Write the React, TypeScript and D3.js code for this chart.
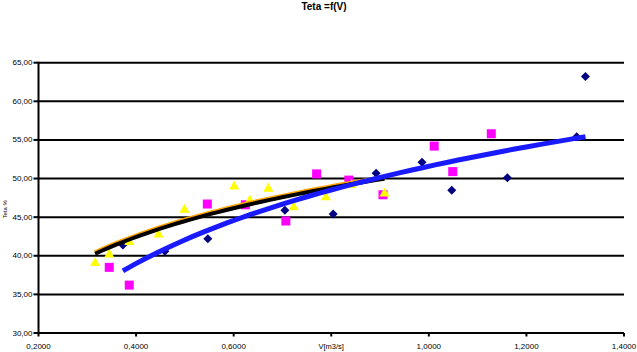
import React, { useEffect, useRef } from "react";
import * as d3 from "d3";

// series 1 (navy diamonds)
const serie1V = [0.373, 0.459, 0.547, 0.705, 0.804, 0.892, 0.986, 1.047, 1.161, 1.303, 1.321];
const serie1T = [41.4, 40.6, 42.2, 45.9, 45.4, 50.7, 52.1, 48.5, 50.1, 55.4, 63.2];

// series 2 (magenta squares)
const serie2V = [0.345, 0.386, 0.546, 0.624, 0.707, 0.77, 0.836, 0.906, 1.011, 1.049, 1.128];
const serie2T = [38.5, 36.2, 46.7, 46.6, 44.5, 50.6, 49.8, 47.9, 54.2, 50.9, 55.8];

// series 3 (yellow triangles)
const serie3V = [0.316, 0.345, 0.386, 0.446, 0.499, 0.601, 0.633, 0.671, 0.723, 0.789, 0.842, 0.909];
const serie3T = [39.2, 40.3, 41.9, 42.9, 46.1, 49.1, 47.3, 48.8, 46.4, 47.7, 49.3, 48.2];

const xTicks = [0.2, 0.4, 0.6, 0.8, 1.0, 1.2, 1.4];
const yTicks = [30, 35, 40, 45, 50, 55, 60, 65];

const title = "Teta =f(V)";
const xTitle = "V[m3/s]";
const yTitle = "Teta %";

// excel-like logarithmic trendline: y = a + b*ln(x)
const logFit = (xs: number[], ys: number[]) => {
    const lx = xs.map((x) => Math.log(x));
    const mx = d3.mean(lx) as number;
    const my = d3.mean(ys) as number;
    let sxy = 0;
    let sxx = 0;
    lx.forEach((l, i) => {
        sxy += (l - mx) * (ys[i] - my);
        sxx += (l - mx) * (l - mx);
    });
    const b = sxy / sxx;
    const a = my - b * mx;
    return (x: number) => a + b * Math.log(x);
};

const Chart = () => {
    const svgRef = useRef<SVGSVGElement>(null);
    const width = 637;
    const height = 352;

    useEffect(() => {
        const svg = d3.select(svgRef.current);
        svg.selectAll("*").remove();

        const xScale = d3.scaleLinear().domain([0.2, 1.4]).range([38.5, 624]);
        const yScale = d3.scaleLinear().domain([30, 65]).range([333, 62.7]);
        const fmt = (d: number, p: number) => d.toFixed(p).replace(".", ",");
        const font = "'Liberation Sans', Arial, sans-serif";

        // title
        svg
            .append("text")
            .attr("x", 324)
            .attr("y", 10)
            .attr("text-anchor", "middle")
            .style("font-family", font)
            .style("font-size", "10px")
            .style("font-weight", "bold")
            .text(title);

        // gridlines
        svg
            .append("g")
            .selectAll("line")
            .data(yTicks.filter((d) => d > 30))
            .enter()
            .append("line")
            .attr("x1", xScale(0.2))
            .attr("x2", xScale(1.4))
            .attr("y1", (d) => yScale(d))
            .attr("y2", (d) => yScale(d))
            .attr("stroke", "#000")
            .attr("stroke-width", 2);

        // y axis
        const yAxis = svg.append("g");
        yAxis
            .append("line")
            .attr("x1", xScale(0.2))
            .attr("x2", xScale(0.2))
            .attr("y1", yScale(65) - 1)
            .attr("y2", yScale(30) + 1)
            .attr("stroke", "#000")
            .attr("stroke-width", 2);
        yTicks.forEach((t) => {
            yAxis
                .append("line")
                .attr("x1", xScale(0.2) - 5)
                .attr("x2", xScale(0.2))
                .attr("y1", yScale(t))
                .attr("y2", yScale(t))
                .attr("stroke", "#000")
                .attr("stroke-width", 2);
            yAxis
                .append("text")
                .attr("x", xScale(0.2) - 6)
                .attr("y", yScale(t) + 2.5)
                .attr("text-anchor", "end")
                .style("font-family", font)
                .style("font-size", "8px")
                .text(fmt(t, 2));
        });

        // x axis
        const xAxis = svg.append("g");
        xAxis
            .append("line")
            .attr("x1", xScale(0.2))
            .attr("x2", xScale(1.4))
            .attr("y1", yScale(30))
            .attr("y2", yScale(30))
            .attr("stroke", "#000")
            .attr("stroke-width", 2);
        xTicks.forEach((t) => {
            xAxis
                .append("line")
                .attr("x1", xScale(t))
                .attr("x2", xScale(t))
                .attr("y1", yScale(30))
                .attr("y2", yScale(30) + 3.5)
                .attr("stroke", "#000")
                .attr("stroke-width", 2);
            xAxis
                .append("text")
                .attr("x", xScale(t))
                .attr("y", 349)
                .attr("text-anchor", "middle")
                .style("font-family", font)
                .style("font-size", "8px")
                .text(fmt(t, 4));
        });

        // axis titles (x title sits on the 0,8000 label like excel does)
        const xt = svg.append("g");
        xt.append("rect")
            .attr("x", xScale(0.8) - 17)
            .attr("y", 341)
            .attr("width", 34)
            .attr("height", 11)
            .attr("fill", "#fff");
        xt.append("text")
            .attr("x", xScale(0.8))
            .attr("y", 349)
            .attr("text-anchor", "middle")
            .style("font-family", font)
            .style("font-size", "7.5px")
            .text(xTitle);

        svg
            .append("text")
            .attr("transform", `translate(7,${yScale(46)}) rotate(-90)`)
            .attr("text-anchor", "middle")
            .style("font-family", font)
            .style("font-size", "6px")
            .text(yTitle);

        // series 1 diamonds
        svg
            .append("g")
            .selectAll("path")
            .data(serie1V)
            .enter()
            .append("path")
            .attr("transform", (d, i) => `translate(${xScale(d)},${yScale(serie1T[i])})`)
            .attr("d", "M0,-4.5L4.5,0L0,4.5L-4.5,0Z")
            .attr("fill", "#000080");

        // series 2 squares
        svg
            .append("g")
            .selectAll("rect")
            .data(serie2V)
            .enter()
            .append("rect")
            .attr("x", (d) => xScale(d) - 4.5)
            .attr("y", (d, i) => yScale(serie2T[i]) - 4.5)
            .attr("width", 9)
            .attr("height", 9)
            .attr("fill", "#ff00ff");

        // series 3 triangles
        svg
            .append("g")
            .selectAll("path")
            .data(serie3V)
            .enter()
            .append("path")
            .attr("transform", (d, i) => `translate(${xScale(d)},${yScale(serie3T[i])})`)
            .attr("d", "M0,-5L5,4L-5,4Z")
            .attr("fill", "#ffff00");

        // trendlines
        const trend = (xs: number[], ys: number[]) => {
            const f = logFit(xs, ys);
            const [lo, hi] = d3.extent(xs) as [number, number];
            const pts = d3.range(0, 41).map((k) => lo + ((hi - lo) * k) / 40);
            return d3
                .line<number>()
                .x((d) => xScale(d))
                .y((d) => yScale(f(d)))(pts);
        };

        svg
            .append("path")
            .attr("d", trend(serie3V, serie3T))
            .attr("transform", "translate(0,-1)")
            .attr("fill", "none")
            .attr("stroke", "#ffa500")
            .attr("stroke-width", 5);
        svg
            .append("path")
            .attr("d", trend(serie3V, serie3T))
            .attr("fill", "none")
            .attr("stroke", "#000")
            .attr("stroke-width", 4);

        svg
            .append("path")
            .attr("d", trend(serie1V, serie1T))
            .attr("fill", "none")
            .attr("stroke", "#1a1aff")
            .attr("stroke-width", 5);
    }, []);

    return (
        <svg
            ref={svgRef}
            width={width}
            height={height}
            style={{ position: "absolute", left: 0, top: 0, background: "#fff" }}
        />
    );
};

export default function App() {
    return <Chart />;
}
